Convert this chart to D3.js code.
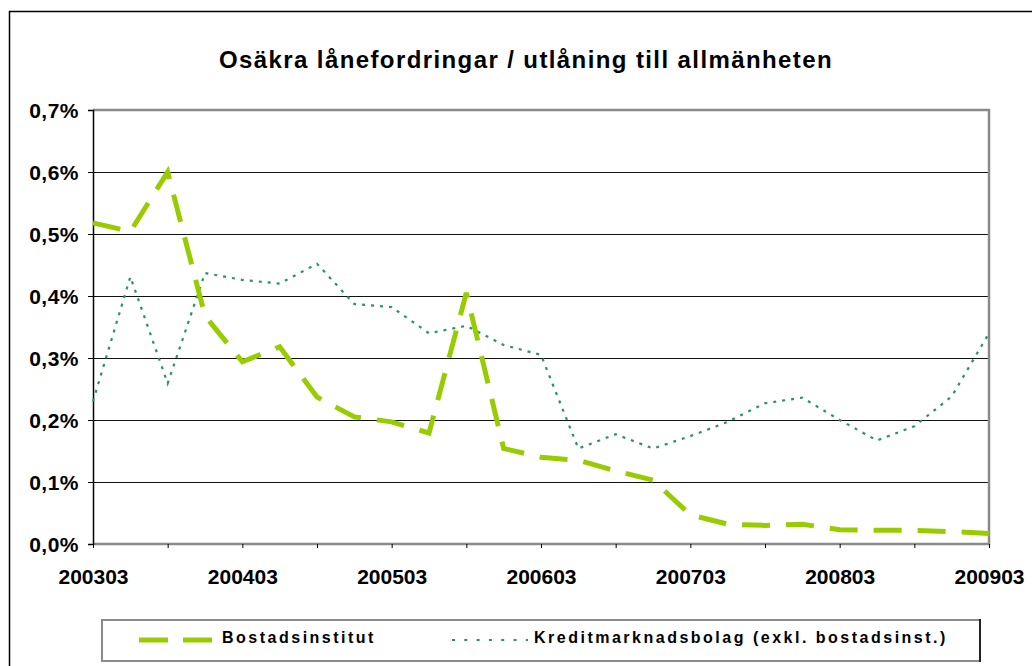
<!DOCTYPE html>
<html>
<head>
<meta charset="utf-8">
<script src="https://cdn.jsdelivr.net/npm/d3@7"></script>
<style>
  body { margin: 0; background: #fff; }
  svg { display: block; font-family: "Liberation Sans", Arial, sans-serif; }
</style>
</head>
<body>
<div id="chart-area"></div>
<script>
// kvartal 2003Q1 - 2009Q1
var quarters = [
	'200303', '200306', '200309', '200312',
	'200403', '200406', '200409', '200412',
	'200503', '200506', '200509', '200512',
	'200603', '200606', '200609', '200612',
	'200703', '200706', '200709', '200712',
	'200803', '200806', '200809', '200812',
	'200903'
];

// andel i procent
var bostadsinstitut = [
	0.518, 0.504, 0.600, 0.368, 0.294, 0.318, 0.237, 0.205,
	0.197, 0.179, 0.405, 0.154, 0.140, 0.135, 0.118, 0.103,
	0.047, 0.032, 0.030, 0.032, 0.023, 0.022, 0.022, 0.020,
	0.017
];

var kreditmarknadsbolag = [
	0.230, 0.431, 0.259, 0.437, 0.426, 0.420, 0.452, 0.387,
	0.382, 0.340, 0.352, 0.321, 0.305, 0.154, 0.177, 0.154,
	0.174, 0.197, 0.227, 0.236, 0.200, 0.167, 0.190, 0.238,
	0.340
];

var yTicks = [0, 0.1, 0.2, 0.3, 0.4, 0.5, 0.6, 0.7];

var seriesNames = ['Bostadsinstitut', 'Kreditmarknadsbolag (exkl. bostadsinst.)'];

var margin = { left: 93, top: 110, right: 43, bottom: 122 };
var W = 1032, H = 666;
var width = W - margin.left - margin.right,
	height = H - margin.top - margin.bottom;

var svg = d3.select('#chart-area')
	.append('svg')
	.attr('width', W)
	.attr('height', H);

// ram runt hela diagrammet
svg.append('rect')
	.attr('x', 9.5).attr('y', 11.5)
	.attr('width', 1200).attr('height', 1000)
	.attr('fill', 'none')
	.attr('stroke', '#000')
	.attr('stroke-width', 1.5);

svg.append('text')
	.attr('x', 526)
	.attr('y', 68)
	.attr('text-anchor', 'middle')
	.attr('font-size', '24px')
	.attr('font-weight', 'bold')
	.attr('letter-spacing', '1.4px')
	.text('Osäkra lånefordringar / utlåning till allmänheten');

var g = svg.append('g')
	.attr('transform', 'translate(' + margin.left + ',' + margin.top + ')');

var x = d3.scalePoint().domain(quarters).range([0, width]);
var y = d3.scaleLinear().domain([0, 0.7]).range([height, 0]);

var comma = d3.formatLocale({ decimal: ',', thousands: ' ', grouping: [3], currency: ['', ' kr'] });
var pct = comma.format('.1f');

// stödlinjer
g.selectAll('line.grid')
	.data(yTicks.filter(d => d > 0 && d < 0.7))
	.enter().append('line')
	.attr('class', 'grid')
	.attr('x1', 0).attr('x2', width)
	.attr('y1', d => y(d) + 0.5).attr('y2', d => y(d) + 0.5)
	.attr('stroke', '#111')
	.attr('stroke-width', 1);

// ram för ritytan (grå topp/höger/botten)
g.append('path')
	.attr('d', 'M0,' + y(0.7) + 'H' + width + 'V' + height + 'H0')
	.attr('fill', 'none')
	.attr('stroke', '#8a8a8a')
	.attr('stroke-width', 2.5);

var yAxis = d3.axisLeft(y)
	.tickValues(yTicks)
	.tickSize(5)
	.tickPadding(9)
	.tickFormat(d => pct(d) + '%');

var yG = g.append('g').call(yAxis);
yG.select('.domain').attr('stroke', '#000').attr('stroke-width', 1.5);
yG.selectAll('.tick line').attr('stroke', '#000');
yG.selectAll('text')
	.attr('font-size', '21px')
	.attr('font-weight', 'bold')
	.attr('font-family', '"Liberation Sans", Arial, sans-serif')
	.attr('fill', '#000')
	.attr('letter-spacing', '0.5px')
	.attr('dy', '0.35em');

var xAxis = d3.axisBottom(x)
	.tickValues(quarters.filter((q, i) => i % 2 == 0))
	.tickSize(4)
	.tickPadding(21)
	.tickFormat(q => q.slice(4) == '03' ? q : '');

var xG = g.append('g')
	.attr('transform', 'translate(0,' + height + ')')
	.call(xAxis);
xG.select('.domain').remove();
xG.selectAll('.tick line').attr('stroke', '#000');
xG.selectAll('text')
	.attr('font-size', '21px')
	.attr('font-weight', 'bold')
	.attr('font-family', '"Liberation Sans", Arial, sans-serif')
	.attr('fill', '#000');

var line = d3.line()
	.x((d, i) => x(quarters[i]))
	.y(d => y(d));

g.append('path')
	.datum(kreditmarknadsbolag)
	.attr('d', line)
	.attr('fill', 'none')
	.attr('stroke', '#2a9460')
	.attr('stroke-width', 2.2)
	.attr('stroke-dasharray', '3,6');

g.append('path')
	.datum(bostadsinstitut)
	.attr('d', line)
	.attr('fill', 'none')
	.attr('stroke', '#99cc00')
	.attr('stroke-width', 5)
	.attr('stroke-dasharray', '28,16');

// legend
var legend = svg.append('g');
legend.append('rect')
	.attr('x', 102).attr('y', 620)
	.attr('width', 878).attr('height', 41)
	.attr('fill', '#fff')
	.attr('stroke', '#8a8a8a')
	.attr('stroke-width', 2);
legend.append('line')
	.attr('x1', 980).attr('x2', 980)
	.attr('y1', 619).attr('y2', 662)
	.attr('stroke', '#000').attr('stroke-width', 1.5);

legend.append('line')
	.attr('x1', 139).attr('x2', 212)
	.attr('y1', 640).attr('y2', 640)
	.attr('stroke', '#99cc00')
	.attr('stroke-width', 5)
	.attr('stroke-dasharray', '29,15');
legend.append('line')
	.attr('x1', 452).attr('x2', 528)
	.attr('y1', 640).attr('y2', 640)
	.attr('stroke', '#2a9460')
	.attr('stroke-width', 2.2)
	.attr('stroke-dasharray', '3,9.3');

legend.selectAll('text.lbl')
	.data(seriesNames)
	.enter().append('text')
	.attr('class', 'lbl')
	.attr('x', (d, i) => i == 0 ? 222 : 534)
	.attr('y', 643)
	.attr('font-size', '16px')
	.attr('font-weight', 'bold')
	.attr('letter-spacing', '2.5px')
	.text(d => d);
</script>
</body>
</html>
